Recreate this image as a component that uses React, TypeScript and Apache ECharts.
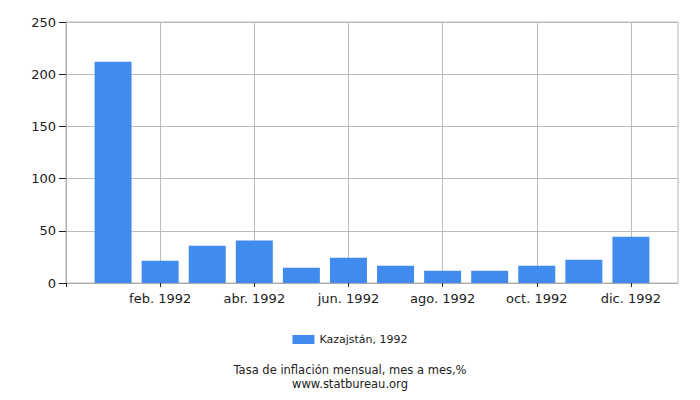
import React, { useEffect, useRef } from "react";
import * as echarts from "echarts";

const months = [
  "ene. 1992", "feb. 1992", "mar. 1992", "abr. 1992", "may. 1992", "jun. 1992",
  "jul. 1992", "ago. 1992", "sep. 1992", "oct. 1992", "nov. 1992", "dic. 1992",
];
const values = [212, 21.4, 35.7, 40.8, 14.7, 24.2, 16.6, 11.8, 11.8, 16.6, 22.3, 44.3];
const seriesName = "Kazajstán, 1992";
const titleText = "Tasa de inflación mensual, mes a mes,%";
const sourceText = "www.statbureau.org";
const xTicks = [0, 2, 4, 6, 8, 10, 12];

const FONT = "DejaVu Sans";

export default function App() {
  const ref = useRef<HTMLDivElement>(null);
  useEffect(() => {
    if (!ref.current) return;
    const chart = echarts.init(ref.current, null, { renderer: "svg" });
    chart.setOption({
      animation: false,
      textStyle: { fontFamily: FONT },
      grid: { left: 66, right: 22, top: 22, bottom: 117, show: true, borderColor: "#bbb", borderWidth: 1 },
      xAxis: {
        type: "value",
        min: 0,
        max: months.length + 1,
        interval: 2,
        axisLine: { show: true, lineStyle: { color: "#aaa" } },
        axisTick: { show: true, length: 4, customValues: xTicks, lineStyle: { color: "#222" } },
        axisLabel: {
          customValues: xTicks.filter((v) => v > 0),
          fontSize: 13,
          color: "#222",
          fontFamily: FONT,
          margin: 9,
          formatter: (v: number) => (v >= 1 && v <= months.length ? months[v - 1] : ""),
        },
        splitLine: { show: true, lineStyle: { color: "#bbb" } },
      },
      yAxis: {
        type: "value",
        min: 0,
        max: 250,
        interval: 50,
        axisLine: { show: true, lineStyle: { color: "#aaa" } },
        axisTick: { show: true, length: 7, lineStyle: { color: "#222" } },
        axisLabel: { fontSize: 13, color: "#222", fontFamily: FONT, margin: 10 },
        splitLine: { show: true, lineStyle: { color: "#bbb" } },
      },
      legend: {
        show: true,
        data: [seriesName],
        bottom: 50,
        left: "center",
        itemWidth: 22,
        itemHeight: 9,
        itemGap: 5,
        textStyle: { fontSize: 11, color: "#222", fontFamily: FONT },
        icon: "rect",
      },
      series: [
        {
          type: "bar",
          name: seriesName,
          data: values.map((v, i) => [i + 1, v]),
          barWidth: 37,
          itemStyle: { color: "#428bee" },
        },
      ],
      graphic: [
        {
          type: "text",
          x: 350,
          y: 370,
          style: {
            text: titleText,
            fontSize: 11.5,
            fontFamily: FONT,
            fill: "#222",
            textAlign: "center",
            textVerticalAlign: "middle",
          },
        },
        {
          type: "text",
          x: 350,
          y: 383.5,
          style: {
            text: sourceText,
            fontSize: 11.5,
            fontFamily: FONT,
            fill: "#222",
            textAlign: "center",
            textVerticalAlign: "middle",
          },
        },
      ],
    });
    return () => chart.dispose();
  }, []);
  return (
    <div
      ref={ref}
      style={{ position: "fixed", left: 0, top: 0, width: 700, height: 400, background: "#fff" }}
    />
  );
}
